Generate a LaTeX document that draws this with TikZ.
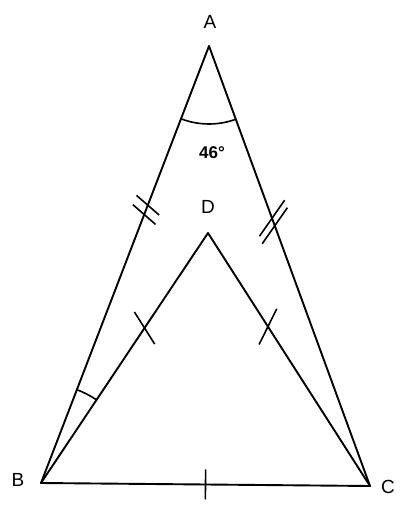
\documentclass[tikz,border=0pt]{standalone}
\usepackage{fontspec}
\setmainfont{Liberation Sans}
\usetikzlibrary{calc,angles}
\begin{document}
\begin{tikzpicture}[x=1pt,y=1pt,
  seg/.style={line width=1.9pt,line cap=round,line join=round},
  tk/.style={line width=1.6pt},
  lbl/.style={font=\fontsize{19}{20}\selectfont},
  ang/.style={draw,line width=1.6pt}]
\useasboundingbox (0,0) rectangle (400,508);
\coordinate (A) at (209,462);
\coordinate (B) at (41,25);
\coordinate (C) at (370,22);
\coordinate (D) at (208,275);
\draw[seg] (B) -- (A) -- (C) -- cycle;
\draw[seg] (B) -- (D) -- (C);
\pic[ang, angle radius=78pt] {angle = B--A--C};
\pic[ang, angle radius=100pt] {angle = D--B--A};
\node[lbl] (la) at (210,486) {A};
\node[lbl] (lb) at (18,28) {B};
\node[lbl] (lc) at (388,21) {C};
\node[lbl] (ld) at (208,301) {D};
\node[font=\fontsize{17}{18}\selectfont\bfseries] (l46) at (212,355) {46°};
% double ticks on AB
\coordinate (t1) at ($(A)!0.375!(B)$);
\coordinate (t1a) at ($(t1)!-5pt!(B)$);
\coordinate (t1b) at ($(t1)!5pt!(B)$);
\draw[tk] ($(t1a)!15pt!70:(B)$) -- ($(t1a)!15pt!250:(B)$);
\draw[tk] ($(t1b)!15pt!70:(B)$) -- ($(t1b)!15pt!250:(B)$);
% double ticks on AC
\coordinate (t2) at ($(A)!0.40!(C)$);
\coordinate (t2a) at ($(t2)!-4pt!(C)$);
\coordinate (t2b) at ($(t2)!4pt!(C)$);
\draw[tk] ($(t2a)!22pt!-55:(C)$) -- ($(t2a)!22pt!125:(C)$);
\draw[tk] ($(t2b)!22pt!-55:(C)$) -- ($(t2b)!22pt!125:(C)$);
% single ticks
\coordinate (t3) at ($(B)!0.62!(D)$);
\draw[tk] ($(t3)!19pt!66:(D)$) -- ($(t3)!19pt!246:(D)$);
\coordinate (t4) at ($(D)!0.37!(C)$);
\draw[tk] ($(t4)!20pt!-59:(C)$) -- ($(t4)!20pt!121:(C)$);
\coordinate (t5) at ($(B)!0.50!(C)$);
\draw[tk] ($(t5)!15pt!90:(C)$) -- ($(t5)!15pt!-90:(C)$);
\end{tikzpicture}
\end{document}
